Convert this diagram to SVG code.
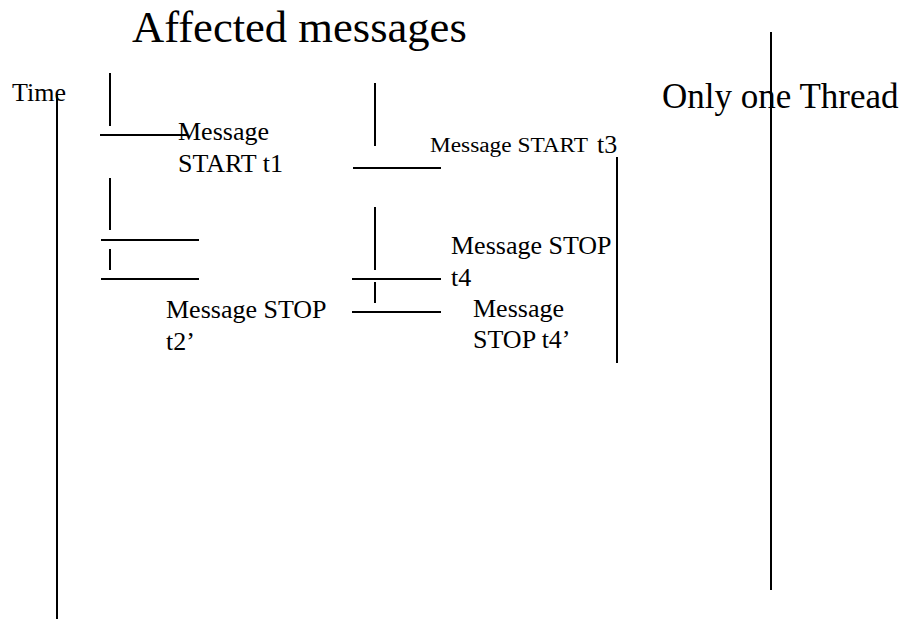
<svg xmlns="http://www.w3.org/2000/svg" width="901" height="619" viewBox="0 0 901 619">
  <style>
    .ln { stroke: #000; stroke-width: 2; fill: none; }
    .t { font-family: 'Liberation Serif', 'DejaVu Serif', serif; fill: #000; }
    .m { font-size: 26px; }
  </style>
  <rect width="901" height="619" fill="#fff"/>

  <!-- headings -->
  <g id="title">
    <text class="t" x="132" y="42" font-size="44.6">Affected messages</text>
  </g>
  <g id="time-label">
    <text class="t m" x="12" y="101">Time</text>
  </g>
  <g id="thread-label">
    <text class="t" x="662" y="108" font-size="35">Only one Thread</text>
  </g>

  <!-- axes and message marks -->
  <g id="connectors">
    <!-- time axis -->
    <line class="ln" x1="57" y1="95" x2="57" y2="619"/>
    <!-- single thread line -->
    <line class="ln" x1="771" y1="32" x2="771" y2="590"/>
    <!-- right bracket -->
    <line class="ln" x1="617" y1="157" x2="617" y2="363"/>

    <!-- left column -->
    <line class="ln" x1="110" y1="73" x2="110" y2="126"/>
    <line class="ln" x1="110" y1="178" x2="110" y2="230"/>
    <line class="ln" x1="110" y1="249" x2="110" y2="270"/>
    <line class="ln" x1="100" y1="135" x2="187" y2="135"/>
    <line class="ln" x1="101" y1="240" x2="199" y2="240"/>
    <line class="ln" x1="101" y1="279" x2="199" y2="279"/>

    <!-- middle column -->
    <line class="ln" x1="375" y1="83" x2="375" y2="146"/>
    <line class="ln" x1="375" y1="207" x2="375" y2="270"/>
    <line class="ln" x1="375" y1="282" x2="375" y2="303"/>
    <line class="ln" x1="353" y1="168" x2="441" y2="168"/>
    <line class="ln" x1="352" y1="279" x2="441" y2="279"/>
    <line class="ln" x1="352" y1="312" x2="441" y2="312"/>
  </g>

  <!-- message labels -->
  <g id="msg-start-t1">
    <text class="t m" x="178" y="140">Message</text>
    <text class="t m" x="178" y="172">START t1</text>
  </g>
  <g id="msg-start-t3">
    <text class="t" x="430" y="152" font-size="20" textLength="158" lengthAdjust="spacingAndGlyphs">Message START</text>
    <text class="t m" x="597" y="153">t3</text>
  </g>
  <g id="msg-stop-t4">
    <text class="t m" x="451" y="254">Message STOP</text>
    <text class="t m" x="451" y="286">t4</text>
  </g>
  <g id="msg-stop-t2p">
    <text class="t m" x="166" y="318">Message STOP</text>
    <text class="t m" x="166" y="350">t2’</text>
  </g>
  <g id="msg-stop-t4p">
    <text class="t m" x="473" y="317">Message</text>
    <text class="t m" x="473" y="348">STOP t4’</text>
  </g>
</svg>
